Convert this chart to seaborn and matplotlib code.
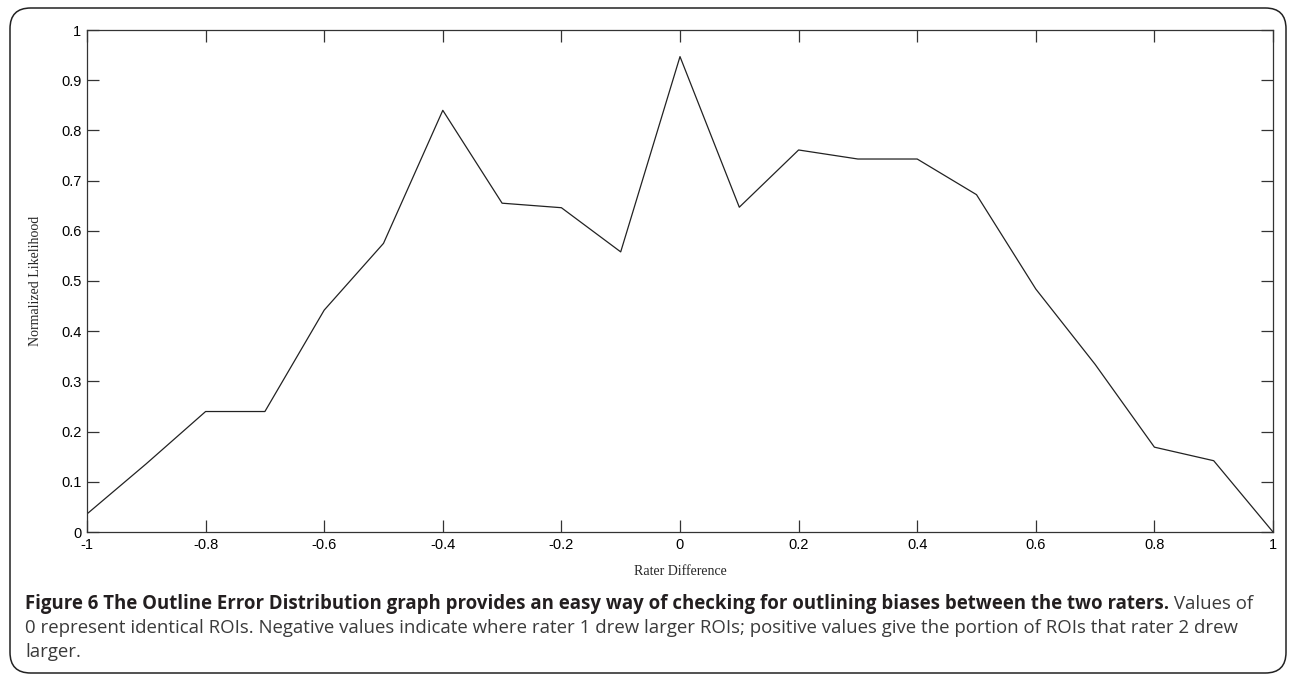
import matplotlib
matplotlib.use("Agg")
import matplotlib.pyplot as plt
from matplotlib.patches import FancyBboxPatch
import seaborn as sns
import pandas as pd

# Rater difference (x) and normalized likelihood (y)
rater_diff = [-1.0, -0.9, -0.8, -0.7, -0.6, -0.5, -0.4, -0.3, -0.2, -0.1, 0.0,
              0.1, 0.2, 0.3, 0.4, 0.5, 0.6, 0.7, 0.8, 0.9, 1.0]
likelihood = [0.036, 0.136, 0.240, 0.240, 0.442, 0.575, 0.840, 0.655, 0.646, 0.558, 0.947,
              0.647, 0.761, 0.743, 0.743, 0.672, 0.484, 0.334, 0.169, 0.142, 0.0]
x_ticks = [-1, -0.8, -0.6, -0.4, -0.2, 0, 0.2, 0.4, 0.6, 0.8, 1]
x_tick_labels = ["-1", "-0.8", "-0.6", "-0.4", "-0.2", "0", "0.2", "0.4", "0.6", "0.8", "1"]
y_ticks = [0, 0.1, 0.2, 0.3, 0.4, 0.5, 0.6, 0.7, 0.8, 0.9, 1]
y_tick_labels = ["0", "0.1", "0.2", "0.3", "0.4", "0.5", "0.6", "0.7", "0.8", "0.9", "1"]

caption_bold = "Figure 6 The Outline Error Distribution graph provides an easy way of checking for outlining biases between the two raters."
caption_rest = " Values of"
caption_line2 = "0 represent identical ROIs. Negative values indicate where rater 1 drew larger ROIs; positive values give the portion of ROIs that rater 2 drew"
caption_line3 = "larger."

df = pd.DataFrame({"diff": rater_diff, "lik": likelihood})

sns.set_style("ticks")
plt.rcParams["font.family"] = ["Liberation Sans", "DejaVu Sans"]

fig = plt.figure(figsize=(12.9, 6.76), dpi=100)
ax = fig.add_axes([87 / 1290, 1 - 532 / 676, (1273 - 87) / 1290, (532 - 30) / 676])

sns.lineplot(data=df, x="diff", y="lik", color="#222222", linewidth=0.9, ax=ax)

ax.set_xlim(-1, 1)
ax.set_ylim(0, 1)
ax.set_xticks(x_ticks)
ax.set_xticklabels(x_tick_labels)
ax.set_yticks(y_ticks)
ax.set_yticklabels(y_tick_labels)
ax.tick_params(direction="in", length=8.5, width=0.9, color="#333333",
               labelsize=10.5, labelcolor="black", pad=4,
               top=True, right=True)
for s in ax.spines.values():
    s.set_visible(True)
    s.set_color("#333333")
    s.set_linewidth(0.9)

ax.set_xlabel("Rater Difference", family="Liberation Serif", fontsize=10, labelpad=10)
ax.set_ylabel("Normalized Likelihood", family="Liberation Serif", fontsize=10, labelpad=14)

# rounded frame around the whole figure
frame = FancyBboxPatch((10 / 1290, 3 / 676), 1276 / 1290, 665 / 676,
                       boxstyle="round,pad=0,rounding_size=0.016",
                       transform=fig.transFigure, fill=False,
                       edgecolor="#222222", linewidth=1.1, mutation_aspect=1290 / 676)
fig.patches.append(frame)

# caption
cap_font = "Open Sans"
cap_size = 13.45
x0 = 25 / 1290
t1 = fig.text(x0, 1 - 604 / 676, caption_bold, family=cap_font, fontsize=cap_size,
              fontweight="bold", color="#231f20", va="center")
fig.canvas.draw()
bb = t1.get_window_extent(renderer=fig.canvas.get_renderer())
fig.text(bb.x1 / fig.bbox.width, 1 - 604 / 676, caption_rest, family=cap_font,
         fontsize=cap_size, color="#3a3a3a", va="center")
fig.text(x0, 1 - 628 / 676, caption_line2, family=cap_font, fontsize=cap_size,
         color="#3a3a3a", va="center")
fig.text(x0, 1 - 652 / 676, caption_line3, family=cap_font, fontsize=cap_size,
         color="#3a3a3a", va="center")

fig.savefig("out.png", dpi=100)
